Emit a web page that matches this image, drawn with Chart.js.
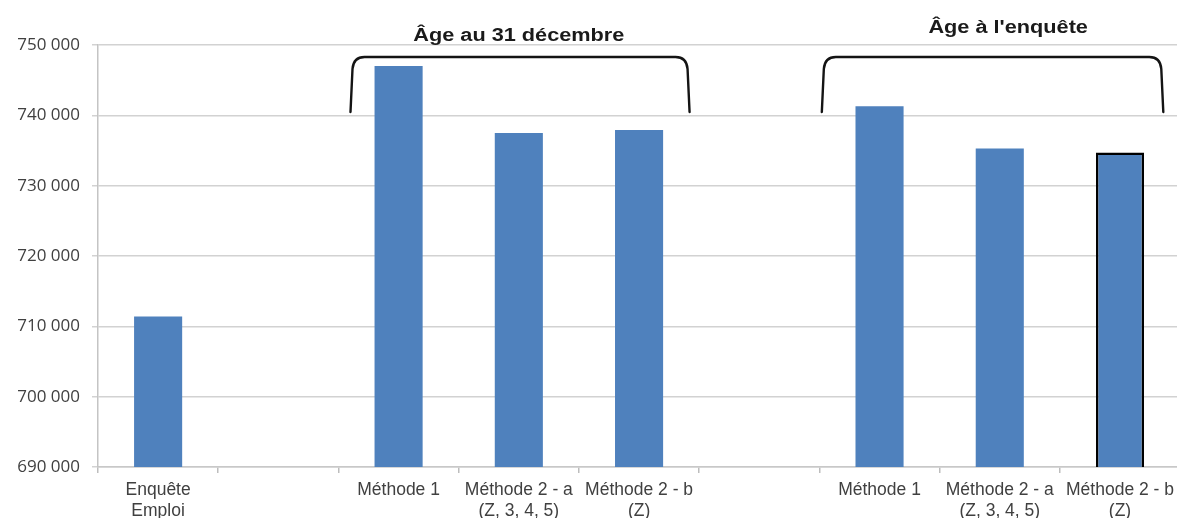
<!DOCTYPE html>
<html lang="fr">
<head>
<meta charset="utf-8">
<title>Effectifs selon la méthode de calcul de l'âge</title>
<script src="https://cdn.jsdelivr.net/npm/chart.js@4.4.1/dist/chart.umd.min.js"></script>
<style>
  html, body { margin: 0; padding: 0; background: #ffffff; overflow: hidden; }
  #wrap { position: relative; width: 1181px; height: 518px; }
</style>
</head>
<body>
<div id="wrap"><canvas id="chart"></canvas></div>
<script>
// Categories (empty slots separate the groups)
const categories = [
  ['Enquête', 'Emploi'],
  '',
  'Méthode 1',
  ['Méthode 2 - a', '(Z, 3, 4, 5)'],
  ['Méthode 2 - b', '(Z)'],
  '',
  'Méthode 1',
  ['Méthode 2 - a', '(Z, 3, 4, 5)'],
  ['Méthode 2 - b', '(Z)']
];

// Effectifs
const effectifs = [711400, null, 747000, 737500, 737900, null, 741300, 735300, 734700];

// Bar highlighted with a dark outline
const highlighted = [false, false, false, false, false, false, false, false, true];

// Value axis
const yMin = 690000;
const yMax = 750000;
const yStep = 10000;

// Group headings with the first and last category they span
const groupTitles = ['Âge au 31 décembre', "Âge à l'enquête"];
const groupFirst = [2, 6];
const groupLast = [4, 8];

function formatThousands(v) {
  return String(v).replace(/\B(?=(\d{3})+(?!\d))/g, ' ');
}

// Braces and headings above each group of methods
const groupBraces = {
  id: 'groupBraces',
  afterDraw(chart) {
    const ctx = chart.ctx;
    const x = chart.scales.x;
    const area = chart.chartArea;
    const leftOff = [-0.4, -0.48];
    const rightOff = [0.42, 0.36];
    const titleAt = [3.0, 7.07];
    const titleBase = [area.top - 4, area.top - 12];
    const yT = area.top + 12;
    const yB = area.top + 67;
    ctx.save();
    for (let g = 0; g < groupTitles.length; g++) {
      const xL = x.getPixelForValue(groupFirst[g] + leftOff[g]);
      const xR = x.getPixelForValue(groupLast[g] + rightOff[g]);
      ctx.beginPath();
      ctx.moveTo(xL, yB);
      ctx.lineTo(xL + 2, yT + 12);
      ctx.quadraticCurveTo(xL + 3, yT, xL + 14, yT);
      ctx.lineTo(xR - 14, yT);
      ctx.quadraticCurveTo(xR - 3, yT, xR - 2, yT + 12);
      ctx.lineTo(xR, yB);
      ctx.lineWidth = 2.4;
      ctx.strokeStyle = '#141414';
      ctx.lineJoin = 'round';
      ctx.lineCap = 'round';
      ctx.stroke();

      const cx = x.getPixelForValue(titleAt[g]);
      ctx.save();
      ctx.translate(cx, titleBase[g]);
      ctx.scale(1.24, 1);
      ctx.font = 'bold 17.5px "Liberation Sans", Arial, sans-serif';
      ctx.fillStyle = '#1a1a1a';
      ctx.textAlign = 'center';
      ctx.textBaseline = 'alphabetic';
      ctx.fillText(groupTitles[g], 0, 0);
      ctx.restore();
    }
    ctx.restore();
  }
};

new Chart(document.getElementById('chart'), {
  type: 'bar',
  data: {
    labels: categories,
    datasets: [{
      data: effectifs,
      backgroundColor: '#4f81bd',
      borderColor: highlighted.map(h => h ? '#000000' : '#4f81bd'),
      borderWidth: highlighted.map(h => h ? 2.5 : 0),
      borderSkipped: false,
      barPercentage: 0.4,
      categoryPercentage: 1.0
    }]
  },
  options: {
    responsive: true,
    maintainAspectRatio: false,
    animation: false,
    layout: { padding: { top: 45, left: 0, right: 0, bottom: 0 } },
    plugins: {
      legend: { display: false },
      tooltip: { enabled: false },
      title: { display: false }
    },
    scales: {
      x: {
        type: 'category',
        offset: true,
        grid: {
          offset: true,
          drawOnChartArea: false,
          drawTicks: true,
          tickLength: 6,
          color: '#bdbdbd',
          lineWidth: 1.5
        },
        border: { display: true, color: '#c8c8c8', width: 1.5 },
        ticks: {
          autoSkip: false,
          maxRotation: 0,
          padding: 7,
          color: '#404040',
          font: { family: '"Liberation Sans", Arial, sans-serif', size: 17.5, lineHeight: 1.2 }
        },
        afterFit(scale) { scale.height = 51; }
      },
      y: {
        min: yMin,
        max: yMax,
        grid: {
          color: '#d2d2d2',
          lineWidth: 1.5,
          drawTicks: true,
          tickLength: 6
        },
        border: { display: true, color: '#c4c4c4', width: 1.5 },
        ticks: {
          stepSize: yStep,
          padding: 12,
          color: '#404040',
          font: { family: '"Open Sans", sans-serif', size: 17 },
          callback: (v) => formatThousands(v)
        },
        afterFit(scale) { scale.width = 98; }
      }
    }
  },
  plugins: [groupBraces]
});
</script>
</body>
</html>
